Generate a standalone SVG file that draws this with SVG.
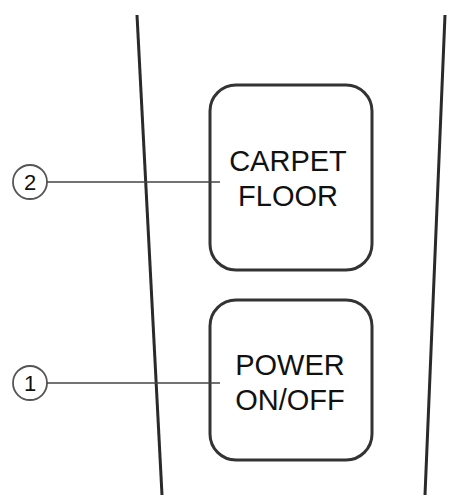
<svg xmlns="http://www.w3.org/2000/svg" width="453" height="499" viewBox="0 0 453 499">
<style>
.edge{stroke:#2a2a2a;stroke-width:3;fill:none;stroke-linecap:butt}
.box{fill:#fff;stroke:#333;stroke-width:3}
.lbl{font-family:"Liberation Sans",Arial,sans-serif;font-size:29px;fill:#111;text-anchor:middle}
.num{font-family:"Liberation Sans",Arial,sans-serif;font-size:22px;fill:#111;text-anchor:middle}
.circ{fill:#fff;stroke:#555;stroke-width:1.8}
.lead{stroke:#444;stroke-width:1.5;fill:none}
</style>
<rect width="453" height="499" fill="#fff"/>
<g id="body">
<line class="edge" x1="137" y1="15" x2="162" y2="495"/>
<line class="edge" x1="445" y1="15" x2="425" y2="495"/>
</g>
<g id="carpet">
<rect class="box" x="210" y="85" width="162" height="185" rx="26"/>
<text class="lbl" x="288" y="171">CARPET</text>
<text class="lbl" x="288" y="206">FLOOR</text>
</g>
<g id="power">
<rect class="box" x="210" y="300" width="162" height="160" rx="26"/>
<text class="lbl" x="290" y="375">POWER</text>
<text class="lbl" x="290" y="410">ON/OFF</text>
</g>
<g id="callout2">
<circle class="circ" cx="30" cy="182" r="17"/>
<text class="num" x="30" y="190">2</text>
</g>
<g id="callout1">
<circle class="circ" cx="30" cy="383" r="17"/>
<text class="num" x="30" y="391">1</text>
</g>
<g id="connectors">
<line class="lead" x1="47" y1="182" x2="220" y2="182"/>
<line class="lead" x1="47" y1="383" x2="220" y2="383"/>
</g>
</svg>
